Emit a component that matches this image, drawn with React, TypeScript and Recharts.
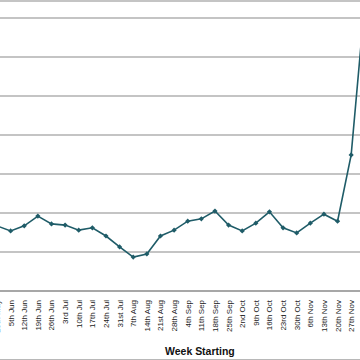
import React from 'react';
import { LineChart, Line, XAxis, YAxis, CartesianGrid } from 'recharts';

const weeks = [
  '29th May', '5th Jun', '12th Jun', '19th Jun', '26th Jun', '3rd Jul', '10th Jul',
  '17th Jul', '24th Jul', '31st Jul', '7th Aug', '14th Aug', '21st Aug', '28th Aug',
  '4th Sep', '11th Sep', '18th Sep', '25th Sep', '2nd Oct', '9th Oct', '16th Oct',
  '23rd Oct', '30th Oct', '6th Nov', '13th Nov', '20th Nov', '27th Nov', '4th Dec',
];

const counts = [
  16.7, 15.4, 16.7, 19.2, 17.2, 16.9, 15.6,
  16.2, 14.1, 11.3, 8.7, 9.5, 14.1, 15.6,
  17.9, 18.5, 20.5, 16.9, 15.4, 17.4, 20.3,
  16.2, 14.9, 17.4, 19.7, 17.9, 34.9, 74,
];

const yTicks = [0, 10, 20, 30, 40, 50, 60, 70, 80];

const LINE = '#1f5c68';
const GRID = '#8a8a8a';
const FONT = '"Liberation Sans", Arial, sans-serif';

const data = weeks.map((week, i) => ({ week, count: counts[i] }));

const WeekTick = (props: any) => {
  const { x, y, payload } = props;
  return (
    <g transform={`translate(${x},${y})`}>
      <text
        transform="rotate(-90)"
        x={-9}
        y={3}
        textAnchor="end"
        fontSize={8}
        fontFamily={FONT}
        fill="#222"
      >
        {payload.value}
      </text>
    </g>
  );
};

const Diamond = (props: any) => {
  const { cx, cy, index } = props;
  if (cx == null || cy == null) return null;
  const s = 2.6;
  return (
    <path
      key={`d-${index}`}
      d={`M${cx},${cy - s}L${cx + s},${cy}L${cx},${cy + s}L${cx - s},${cy}Z`}
      fill={LINE}
    />
  );
};

export default function App() {
  return (
    <div
      style={{
        position: 'fixed',
        top: 0,
        left: 0,
        width: 360,
        height: 360,
        overflow: 'hidden',
        background: '#fff',
      }}
    >
      <div
        style={{
          position: 'absolute',
          top: 0,
          left: -20,
          width: 400,
          height: 360,
          boxSizing: 'border-box',
          borderTop: '2px solid #c4c4c4',
          borderBottom: '1px solid #b8b8b8',
        }}
      />
      {/* the line chart uses a point scale: first week sits on the left edge of the plot */}
      <div style={{ position: 'absolute', top: -30, left: -2.6, width: 367.8 }}>
        <LineChart
          width={367.8}
          height={387}
          data={data}
          margin={{ top: 9, right: 0, left: 0, bottom: 0 }}
        >
          <CartesianGrid horizontal vertical={false} stroke={GRID} strokeWidth={1.2} />
          <XAxis
            dataKey="week"
            interval={0}
            height={66}
            tickLine={false}
            tickSize={0}
            tickMargin={0}
            axisLine={{ stroke: GRID, strokeWidth: 1.2 }}
            tick={<WeekTick />}
            label={{
              value: 'Week Starting',
              position: 'insideBottom',
              offset: 2,
              dx: 19,
              fontSize: 10.5,
              fontWeight: 'bold',
              fontFamily: FONT,
              fill: '#111',
            }}
          />
          <YAxis hide domain={[0, 80]} ticks={yTicks} />
          <Line
            type="linear"
            dataKey="count"
            stroke={LINE}
            strokeWidth={1.6}
            dot={<Diamond />}
            activeDot={false}
            isAnimationActive={false}
          />
        </LineChart>
      </div>
    </div>
  );
}
